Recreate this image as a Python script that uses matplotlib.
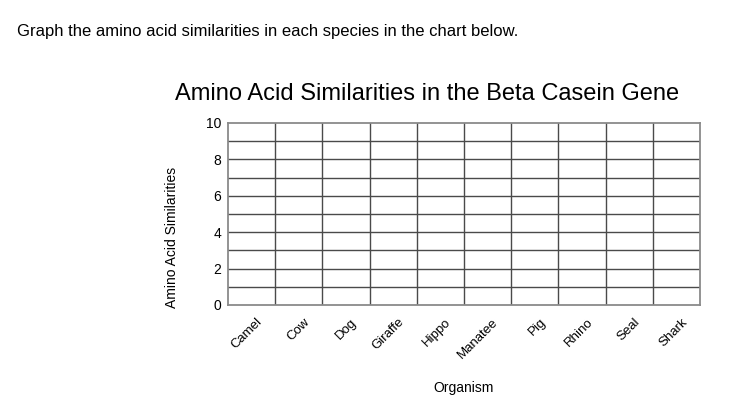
import matplotlib
matplotlib.use('Agg')
import matplotlib.pyplot as plt
import matplotlib.transforms as mtransforms

plt.rcParams['font.family'] = ['Liberation Sans', 'DejaVu Sans']

# data: blank worksheet grid, only the categories and the y scale
organisms = ['Camel', 'Cow', 'Dog', 'Giraffe', 'Hippo', 'Manatee', 'Pig', 'Rhino', 'Seal', 'Shark']
y_ticks = [0, 2, 4, 6, 8, 10]
y_max = 10

fig = plt.figure(figsize=(7.36, 4.08), dpi=100)
ax = fig.add_axes([228/736, 1 - 305/408, 472/736, 182/408])

x = list(range(len(organisms)))
ax.set_xlim(-0.5, len(organisms) - 0.5)
ax.set_ylim(0, y_max)

# grid lines: every unit on y, column boundaries on x
for yv in range(1, y_max):
    ax.axhline(yv, color='#4a4a4a', lw=1)
for xv in x[:-1]:
    ax.axvline(xv + 0.5, color='#4a4a4a', lw=1)

for s in ax.spines.values():
    s.set_color('#8a8a8a')
    s.set_linewidth(1.3)

ax.set_yticks(y_ticks)
ax.set_yticklabels([str(v) for v in y_ticks], fontsize=10)
ax.tick_params(axis='y', length=0, pad=5)

ax.set_xticks(x)
ax.set_xticklabels(organisms, fontsize=9.5, rotation=45, ha='right',
                   va='center', rotation_mode='anchor')
ax.tick_params(axis='x', length=0, pad=11)
shift = mtransforms.ScaledTranslation(9/100, 0, fig.dpi_scale_trans)
for lab in ax.get_xticklabels():
    lab.set_transform(lab.get_transform() + shift)

fig.text(17/736, 1 - 36/408, 'Graph the amino acid similarities in each species in the chart below.',
         fontsize=12, ha='left', va='baseline')
fig.text(427/736, 1 - 100/408, 'Amino Acid Similarities in the Beta Casein Gene',
         fontsize=17, ha='center', va='baseline')
fig.text(464/736, 1 - 392/408, 'Organism', fontsize=10, ha='center', va='baseline')
fig.text(172/736, 1 - 237/408, 'Amino Acid Similarities', fontsize=10,
         rotation=90, ha='center', va='center')

fig.savefig('out.png', dpi=100)
